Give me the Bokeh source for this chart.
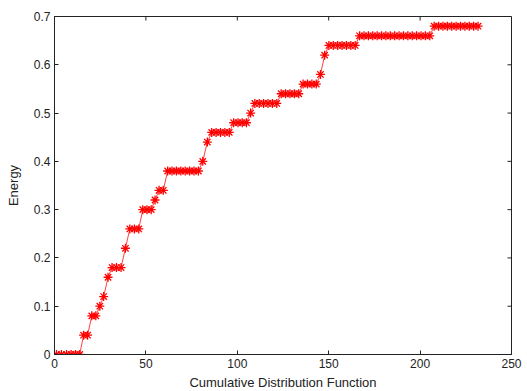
from bokeh.plotting import figure
from bokeh.models import Range1d, FixedTicker
from bokeh.embed import file_html
from bokeh.resources import INLINE

# data
x_values = [1.1, 3.8, 6.6, 9.1, 11.5, 13.8,
            15.9, 18.1,
            20.4, 22.6,
            24.8,
            26.9,
            29.3,
            31.5, 33.9, 36.4,
            38.8,
            41.2, 43.7, 46.1,
            48.3, 50.6, 52.9,
            55.0,
            57.2, 59.5,
            61.9, 64.3, 66.7, 69.1, 71.5, 73.9, 76.3, 78.7,
            81.1,
            83.6,
            86.0, 88.4, 90.8, 93.2, 95.6,
            98.0, 100.4, 102.7, 105.0,
            107.3,
            109.6, 112.0, 114.4, 116.8, 119.2, 121.6,
            124.0, 126.4, 128.8, 131.2, 133.6,
            136.0, 138.4, 140.8, 143.2,
            145.5,
            147.8,
            150.1, 152.5, 154.9, 157.3, 159.7, 162.1, 164.5,
            166.9, 169.3, 171.7, 174.1, 176.5, 178.9, 181.3, 183.7, 186.1,
            188.5, 190.9, 193.3, 195.7, 198.1, 200.5, 202.9, 205.3,
            207.7, 210.1, 212.5, 214.9, 217.3, 219.7, 222.1, 224.5, 226.9,
            229.3, 231.7]
energy = [0, 0, 0, 0, 0, 0,
          0.04, 0.04,
          0.08, 0.08,
          0.10,
          0.12,
          0.16,
          0.18, 0.18, 0.18,
          0.22,
          0.26, 0.26, 0.26,
          0.30, 0.30, 0.30,
          0.32,
          0.34, 0.34,
          0.38, 0.38, 0.38, 0.38, 0.38, 0.38, 0.38, 0.38,
          0.40,
          0.44,
          0.46, 0.46, 0.46, 0.46, 0.46,
          0.48, 0.48, 0.48, 0.48,
          0.50,
          0.52, 0.52, 0.52, 0.52, 0.52, 0.52,
          0.54, 0.54, 0.54, 0.54, 0.54,
          0.56, 0.56, 0.56, 0.56,
          0.58,
          0.62,
          0.64, 0.64, 0.64, 0.64, 0.64, 0.64, 0.64,
          0.66, 0.66, 0.66, 0.66, 0.66, 0.66, 0.66, 0.66, 0.66,
          0.66, 0.66, 0.66, 0.66, 0.66, 0.66, 0.66, 0.66,
          0.68, 0.68, 0.68, 0.68, 0.68, 0.68, 0.68, 0.68, 0.68,
          0.68, 0.68]

x_ticks = [0, 50, 100, 150, 200, 250]
x_tick_labels = ["0", "50", "100", "150", "200", "250"]
y_ticks = [0, 0.1, 0.2, 0.3, 0.4, 0.5, 0.6, 0.7]
y_tick_labels = ["0", "0.1", "0.2", "0.3", "0.4", "0.5", "0.6", "0.7"]

X_MIN, X_MAX = 0, 250
Y_MIN, Y_MAX = 0, 0.7

FONT = "Liberation Sans"
DARK = "#222222"

p = figure(frame_width=457, frame_height=338, output_backend="svg", toolbar_location=None,
           x_range=Range1d(X_MIN, X_MAX), y_range=Range1d(Y_MIN, Y_MAX),
           min_border_left=54, min_border_right=16, min_border_top=16, min_border_bottom=37)
p.xgrid.visible = False
p.ygrid.visible = False
p.outline_line_color = DARK
p.outline_line_width = 1
p.outline_line_alpha = 1

p.line(x_values, energy, line_color="#ff2020", line_width=1, line_alpha=0.85)
p.scatter(x_values, energy, marker="asterisk", size=9, line_color="#ff0000", line_width=1.3)

# inward ticks on the top and right edges of the box
tick_dx = 4 * (X_MAX - X_MIN) / 457
tick_dy = 4 * (Y_MAX - Y_MIN) / 338
p.segment(x0=x_ticks, y0=[Y_MAX] * len(x_ticks), x1=x_ticks, y1=[Y_MAX - tick_dy] * len(x_ticks),
          line_color=DARK, line_width=1)
p.segment(x0=[X_MAX] * len(y_ticks), y0=y_ticks, x1=[X_MAX - tick_dx] * len(y_ticks), y1=y_ticks,
          line_color=DARK, line_width=1)

def style(ax, ticks, labels):
    ax.ticker = FixedTicker(ticks=ticks)
    ax.major_label_overrides = {t: l for t, l in zip(ticks, labels)}
    ax.major_tick_in = 4
    ax.major_tick_out = 0
    ax.minor_tick_line_color = None
    ax.major_tick_line_color = DARK
    ax.axis_line_color = DARK
    ax.major_label_text_font = FONT
    ax.major_label_text_color = DARK
    ax.major_label_text_font_size = "12px"
    ax.major_label_standoff = 4
    ax.axis_label_text_font = FONT
    ax.axis_label_text_font_style = "normal"
    ax.axis_label_text_font_size = "13px"
    ax.axis_label_text_color = DARK

style(p.xaxis[0], x_ticks, x_tick_labels)
style(p.yaxis[0], y_ticks, y_tick_labels)
p.xaxis[0].axis_label = "Cumulative Distribution Function"
p.xaxis[0].axis_label_standoff = 4
p.yaxis[0].axis_label = "Energy"
p.yaxis[0].axis_label_standoff = 10

open("out.html", "w").write(file_html(p, INLINE))
